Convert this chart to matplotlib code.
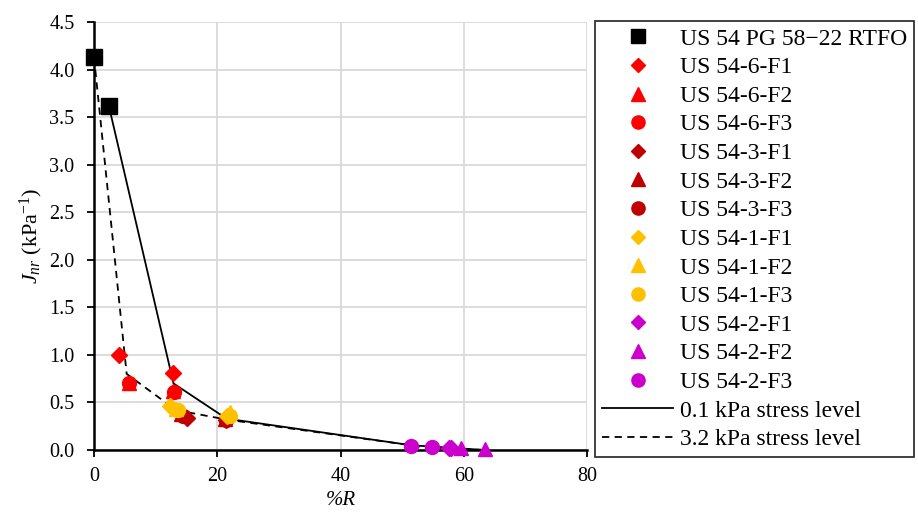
import matplotlib
matplotlib.use("Agg")
import matplotlib.pyplot as plt

plt.rcParams['font.family'] = ['Liberation Serif', 'DejaVu Serif']
plt.rcParams['mathtext.fontset'] = 'custom'
plt.rcParams['mathtext.rm'] = 'Liberation Serif'
plt.rcParams['mathtext.it'] = 'Liberation Serif:italic'

# series: label, colour, marker, %R values, Jnr values
labels = ["US 54 PG 58\u221222 RTFO",
          "US 54-6-F1", "US 54-6-F2", "US 54-6-F3",
          "US 54-3-F1", "US 54-3-F2", "US 54-3-F3",
          "US 54-1-F1", "US 54-1-F2", "US 54-1-F3",
          "US 54-2-F1", "US 54-2-F2", "US 54-2-F3"]
colors = ["#000000",
          "#FF0000", "#FF0000", "#FF0000",
          "#C00000", "#C00000", "#C00000",
          "#FFC000", "#FFC000", "#FFC000",
          "#CC00CC", "#CC00CC", "#CC00CC"]
markers = ["s", "D", "^", "o", "D", "^", "o", "D", "^", "o", "D", "^", "o"]
pct_r = [[0.0, 2.4],
         [4.1, 12.8], [5.6, 12.9], [5.7, 13.0],
         [15.1, 21.4], [14.1, 21.3], [14.5, 21.5],
         [12.4, 21.6], [13.3, 22.0], [13.6, 22.1],
         [57.9, 57.6], [59.5, 63.4], [51.5, 54.8]]
jnr = [[4.13, 3.62],
       [1.00, 0.81], [0.70, 0.62], [0.70, 0.61],
       [0.34, 0.32], [0.38, 0.33], [0.36, 0.32],
       [0.46, 0.36], [0.43, 0.40], [0.42, 0.36],
       [0.02, 0.02], [0.02, 0.01], [0.04, 0.03]]

# stress level lines
r_01 = [2.4, 12.9, 21.5, 51.5, 63.4]
j_01 = [3.62, 0.70, 0.33, 0.05, 0.0]
r_32 = [0.0, 5.3, 13.3, 21.5, 54.8, 63.4]
j_32 = [4.13, 0.80, 0.42, 0.32, 0.02, 0.0]

fig = plt.figure(figsize=(9.18, 5.12), dpi=100)
ax = fig.add_axes([94 / 918, 62 / 512, 493 / 918, 428 / 512])

sizes = {"s": 11, "D": 8, "^": 10, "o": 10}
handles = []
for lab, c, m, x, y in zip(labels, colors, markers, pct_r, jnr):
    h, = ax.plot(x, y, linestyle="none", marker=m, color=c, ms=sizes[m],
                 mec=c, label=lab, zorder=4, clip_on=False)
    handles.append(h)

l1, = ax.plot(r_01, j_01, color="black", lw=1.3, label="0.1 kPa stress level", zorder=3)
l2, = ax.plot(r_32, j_32, color="black", lw=1.3, ls=(0, (4, 3)),
              label="3.2 kPa stress level", zorder=3)
handles += [l1, l2]

ax.set_xlim(0, 80)
ax.set_ylim(0, 4.5)
ax.set_xticks([0, 20, 40, 60, 80])
ax.set_yticks([i * 0.5 for i in range(10)])
ax.set_yticklabels(["%.1f" % (i * 0.5) for i in range(10)])
ax.grid(True, color="#d9d9d9", lw=1.3)
ax.set_axisbelow(True)
for s in ["top", "right"]:
    ax.spines[s].set_visible(False)
for s in ["left", "bottom"]:
    ax.spines[s].set_linewidth(1.8)
ax.tick_params(direction="out", length=5, width=1.3, labelsize=14.5)
ax.tick_params(axis="y", pad=9)
ax.tick_params(axis="x", pad=7)

ax.set_xlabel("%R", fontsize=15, style="italic", labelpad=4)
ax.set_ylabel(r"$J_{nr}$ (kPa$^{\mathrm{-1}}$)", fontsize=16, labelpad=3)

leg = fig.legend(handles=handles, loc="upper left", bbox_to_anchor=(595 / 918, 1 - 21 / 512),
                 fontsize=17, frameon=True, fancybox=False, edgecolor="black",
                 borderpad=0.3, labelspacing=0.3, handlelength=3.0, handletextpad=0.3,
                 borderaxespad=0, markerscale=0.95)
leg.get_frame().set_linewidth(1.3)

fig.savefig("out.png", dpi=100)
